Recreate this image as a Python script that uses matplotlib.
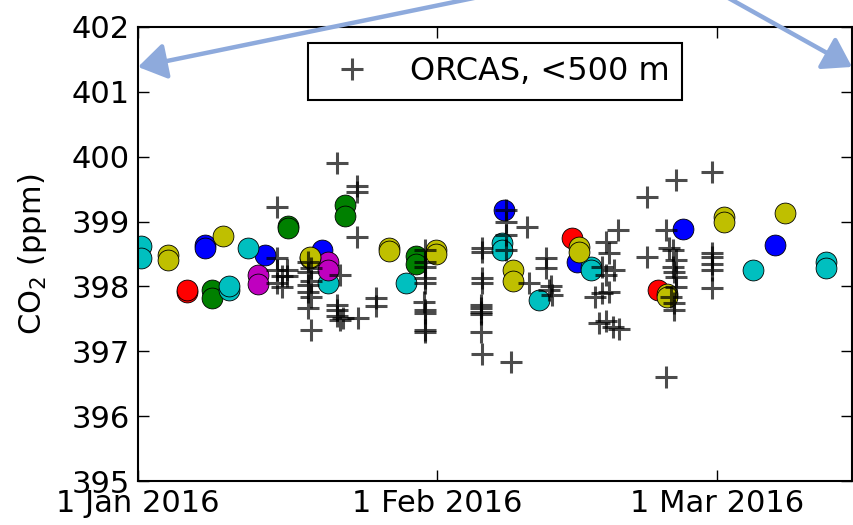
import numpy as np
import matplotlib
matplotlib.use("Agg")
import matplotlib.pyplot as plt
import matplotlib.dates as mdates
from datetime import datetime

# days since 1 Jan 2016, CO2 in ppm
site_days = {
    "b": [6.97, 6.97, 13.17, 19.06, 37.97, 45.51, 56.45, 66.06],
    "g": [7.70, 7.70, 15.55, 15.55, 21.44, 21.44, 28.77, 28.77],
    "r": [5.11, 5.11, 44.99, 53.87],
    "c": [0.26, 0.26, 9.45, 9.45, 11.41, 19.68, 27.74, 37.76, 37.76, 41.58,
          46.95, 46.95, 63.69, 71.33, 71.33],
    "m": [12.45, 12.45, 19.68, 19.68],
    "y": [3.15, 3.15, 8.83, 17.82, 17.82, 25.98, 25.98, 30.84, 30.84, 38.89,
          38.89, 45.71, 45.71, 54.80, 54.80, 60.69, 60.69, 67.09],
}
site_co2 = {
    "b": [398.64, 398.60, 398.48, 398.56, 399.18, 398.38, 398.89, 398.64],
    "g": [397.94, 397.82, 398.93, 398.90, 399.26, 399.09, 398.47, 398.35],
    "r": [397.91, 397.94, 398.75, 397.95],
    "c": [398.62, 398.44, 397.95, 398.00, 398.60, 398.05, 398.05, 398.67, 398.56, 397.79,
          398.30, 398.25, 398.25, 398.38, 398.28],
    "m": [398.18, 398.04, 398.38, 398.25],
    "y": [398.48, 398.41, 398.78, 398.44, 398.46, 398.60, 398.55, 398.56, 398.50, 398.25,
          398.08, 398.61, 398.53, 397.88, 397.84, 399.07, 398.99, 399.13],
}
site_colors = {"b": (0, 0, 1), "g": (0, 0.5, 0), "r": (1, 0, 0),
               "c": (0, 0.75, 0.75), "m": (0.75, 0, 0.75), "y": (0.75, 0.75, 0)}

orcas_days = [
    14.41, 14.41, 14.41, 14.93, 14.41, 15.44, 15.44, 14.93,
    17.61, 17.92, 17.61, 17.92, 17.61, 17.61, 17.92, 17.61, 17.92,
    20.61, 20.92, 20.61, 20.61, 20.92, 21.23, 20.61,
    22.68, 22.68, 22.68, 22.78,
    24.64, 24.64,
    29.75, 29.75, 29.75, 29.75, 29.75, 29.65, 29.75, 29.75, 29.75, 29.75,
    35.64, 35.64, 35.64, 35.64, 35.54, 35.54, 35.54, 35.54, 35.64, 35.54,
    38.12, 38.12, 38.12, 38.12, 38.69, 40.34, 40.50,
    42.30, 42.30, 42.82, 42.92, 42.60,
    47.40, 48.10, 48.50, 48.80, 48.10, 48.50, 49.30, 48.80, 48.50, 49.20, 49.90, 49.70, 47.80,
    52.74, 55.73, 52.74, 54.70, 55.00, 55.42, 55.73, 55.42, 55.73, 55.73, 55.20, 55.50, 54.70,
    55.60, 55.50,
    59.45, 59.45, 59.45, 59.45, 59.45, 59.45,
]
orcas_co2 = [
    399.22, 398.44, 398.25, 398.16, 398.05, 398.25, 398.16, 397.99,
    398.38, 398.28, 398.22, 398.08, 398.02, 397.91, 397.84, 397.67, 397.33,
    399.90, 398.18, 397.71, 397.55, 397.48, 397.51, 397.64,
    399.55, 399.45, 398.76, 397.51,
    397.82, 397.70,
    398.56, 398.38, 398.30, 398.13, 398.05, 397.76, 397.64, 397.59, 397.33, 397.30,
    398.59, 398.53, 398.13, 398.05, 397.71, 397.61, 397.57, 397.30, 396.96, 397.66,
    399.18, 398.99, 398.79, 398.56, 396.83, 398.92, 398.05,
    398.44, 398.28, 398.00, 397.87, 397.95,
    397.84, 397.90, 398.69, 398.52, 398.30, 398.18, 398.25, 397.92, 397.47, 397.38, 397.35, 398.87, 397.43,
    399.38, 399.64, 398.45, 398.87, 398.59, 398.56, 398.41, 398.30, 398.15, 397.99, 397.84, 397.64, 396.60,
    398.22, 397.74,
    399.76, 398.52, 398.46, 398.35, 398.25, 397.97,
]

y_ticks = [395, 396, 397, 398, 399, 400, 401, 402]
x_ticks = [datetime(2016, 1, 1), datetime(2016, 2, 1), datetime(2016, 3, 1)]

plt.rcParams["font.family"] = "DejaVu Sans"
plt.rcParams["font.size"] = 22

t0 = mdates.date2num(datetime(2016, 1, 1))

fig = plt.figure(figsize=(8.54, 5.25), dpi=100)
ax = fig.add_axes([0.1616, 0.0838, 0.8361, 0.8648])

for key in ["b", "g", "r", "c", "m", "y"]:
    ax.plot(t0 + np.array(site_days[key]), site_co2[key], "o", color=site_colors[key],
            markersize=15, markeredgecolor="k", markeredgewidth=0.6, zorder=2)

ax.plot(t0 + np.array(orcas_days), orcas_co2, "+", color="k", alpha=0.7,
        markersize=16, markeredgewidth=2.2, label="ORCAS, <500 m", zorder=3)

ax.set_xlim(t0, mdates.date2num(datetime(2016, 3, 15)))
ax.set_ylim(395, 402)
ax.set_yticks(y_ticks)
ax.set_xticks(mdates.date2num(x_ticks))
ax.xaxis.set_major_formatter(mdates.DateFormatter("%-d %b %Y"))
ax.tick_params(direction="in", top=True, right=True, length=8, width=1, pad=6)
ax.set_ylabel("CO$_2$ (ppm)", labelpad=16)
for s in ax.spines.values():
    s.set_linewidth(1.5)

leg = ax.legend(loc="upper center", fancybox=False, framealpha=1, numpoints=1,
                handlelength=2.0, borderaxespad=0.5, fontsize=23)
leg.get_frame().set_edgecolor("k")
leg.get_frame().set_linewidth(1.5)

arrow_col = "#8eaadc"
for tip in [(0.0, 0.912), (1.0, 0.912)]:
    ax.annotate("", xy=tip, xycoords="axes fraction", xytext=(0.731, 1.148),
                textcoords="axes fraction", annotation_clip=False,
                arrowprops=dict(arrowstyle="-|>,head_length=0.85,head_width=0.55",
                                color=arrow_col, lw=3.2, mutation_scale=20,
                                shrinkA=0, shrinkB=0))

fig.savefig("out.png", dpi=100, facecolor="white")
